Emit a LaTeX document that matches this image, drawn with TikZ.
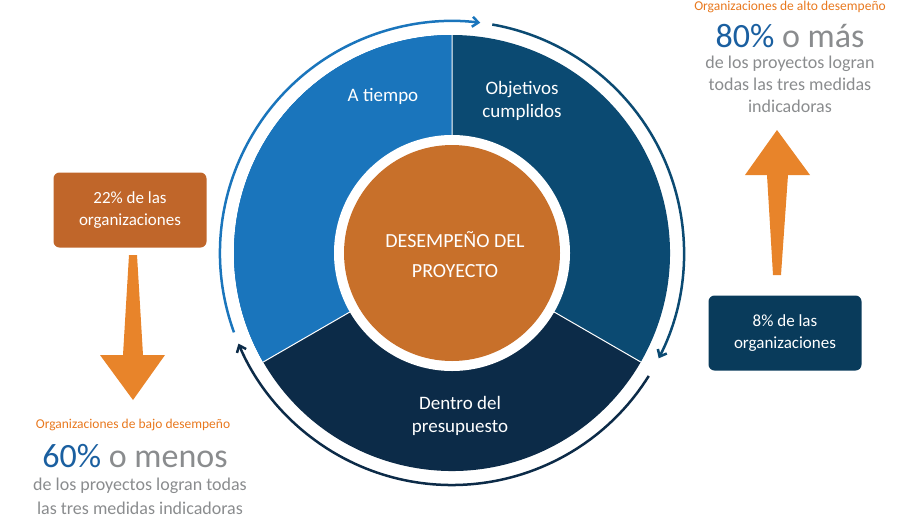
\documentclass[tikz,border=0pt]{standalone}
\usepackage{fontspec}
\setmainfont{Carlito}
\usetikzlibrary{arrows.meta}
\definecolor{cA}{HTML}{1A75BC}
\definecolor{cB}{HTML}{0B4A72}
\definecolor{cC}{HTML}{0C2B48}
\definecolor{cO}{HTML}{C8702A}
\definecolor{cOB}{HTML}{C0662A}
\definecolor{cAr}{HTML}{E8842A}
\definecolor{cG}{HTML}{8A8C8E}
\definecolor{cT}{HTML}{1A5FA0}
\definecolor{cH}{HTML}{E8781E}
\begin{document}
\begin{tikzpicture}[x=1pt,y=-1pt,
  seg/.style={font=\fontsize{19}{23}\selectfont,text=white,align=center},
  obox/.style={rounded corners=6pt,minimum width=153pt,minimum height=75pt,align=center,text=white,font=\fontsize{17}{22}\selectfont},
  ring/.style={line width=2.5pt,-{Straight Barb[length=6pt,width=10pt]}},
  gtxt/.style={text=cG,font=\fontsize{18}{22}\selectfont,align=center}]
\useasboundingbox (0,0) rectangle (905,517);
\coordinate (c) at (452,253);
% sectors
\fill[cA] (c) -- ++(90:-218) arc[start angle=-90,end angle=-210,radius=218] -- cycle;
\fill[cA] (c) -- +(90:-218) arc[start angle=-90,end angle=-210,radius=218] -- cycle;
\begin{scope}[y=1pt]
\coordinate (cc) at (452,-253);
\fill[cA] (cc) -- +(90:218) arc[start angle=90,end angle=210,radius=218] -- cycle;
\fill[cB] (cc) -- +(-30:218) arc[start angle=-30,end angle=90,radius=218] -- cycle;
\fill[cC] (cc) -- +(210:218) arc[start angle=210,end angle=330,radius=218] -- cycle;
\draw[white,line width=1pt] (cc) -- +(90:218) (cc) -- +(210:218) (cc) -- +(330:218);
\fill[white] (cc) circle[radius=118];
\fill[cO] (cc) circle[radius=108];
\draw[ring,cA] (cc) ++(200:232) arc[start angle=200,end angle=83,radius=232];
\draw[ring,cB] (cc) ++(80:232) arc[start angle=80,end angle=-27,radius=232];
\draw[ring,cC] (cc) ++(-32:232) arc[start angle=-32,end angle=-157,radius=232];
\end{scope}
\node[seg] (a) at (383,96) {A tiempo};
\node[seg] (o) at (522,101) {Objetivos\\cumplidos};
\node[seg] (d) at (460,416) {Dentro del\\presupuesto};
\node[seg,font=\fontsize{20}{30}\selectfont] (m) at (455,255) {DESEMPEÑO DEL\\PROYECTO};
% boxes
\node[obox,fill=cOB] (b1) at (130,210) {22\% de las\\organizaciones};
\node[obox,fill=cB!80!black] (b2) at (785,333) {8\% de las\\organizaciones};
% arrows
\fill[cAr] (129,255) -- (137,255) -- (143,355) -- (165,355) -- (133,400) -- (100,355) -- (123,355) -- cycle;
\fill[cAr] (773,275) -- (781,275) -- (788,175) -- (810,175) -- (777,130) -- (745,175) -- (767,175) -- cycle;
% texts
\node[text=cH,font=\fontsize{13.5}{16}\selectfont] (h1) at (790,7) {Organizaciones de alto desempeño};
\node[font=\fontsize{34}{40}\selectfont] (p1) at (790,36) {\textcolor{cT}{80\%} \textcolor{cG}{o más}};
\node[gtxt,anchor=north] (t1) at (790,52) {de los proyectos logran\\todas las tres medidas\\indicadoras};
\node[text=cH,font=\fontsize{13.5}{16}\selectfont] (h2) at (133,425) {Organizaciones de bajo desempeño};
\node[font=\fontsize{34}{40}\selectfont] (p2) at (135,456) {\textcolor{cT}{60\%} \textcolor{cG}{o menos}};
\node[gtxt,anchor=north,font=\fontsize{18}{24}\selectfont] (t2) at (140,474) {de los proyectos logran todas\\las tres medidas indicadoras};
\end{tikzpicture}
\end{document}
